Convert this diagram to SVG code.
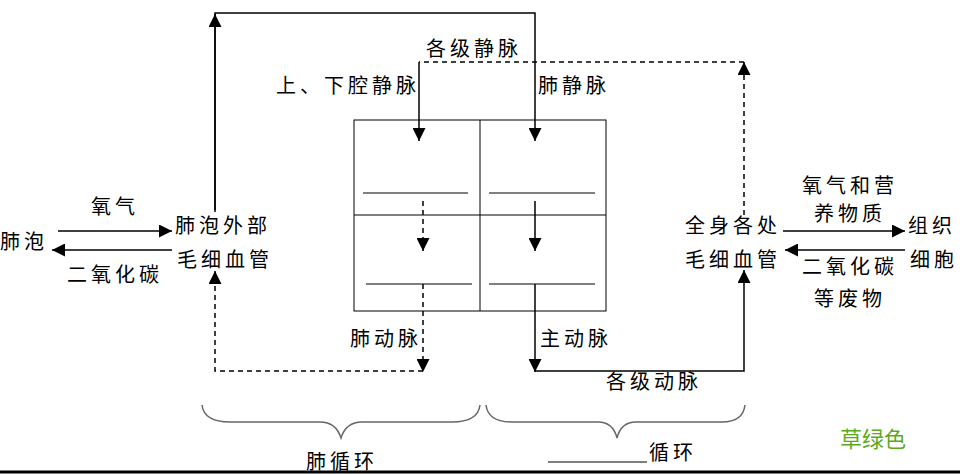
<svg xmlns="http://www.w3.org/2000/svg" width="960" height="474" viewBox="0 0 960 474">
<style>
text{font-family:"Noto Sans CJK SC",sans-serif;font-size:20px;letter-spacing:4px;fill:#000}
.s{stroke:#000;stroke-width:1.5;fill:none}
.d{stroke:#000;stroke-width:1.5;fill:none;stroke-dasharray:5,4}
.t{stroke:#000;stroke-width:1;fill:none}
.b{stroke:#666;stroke-width:1.5;fill:none}
</style>
<defs>
<marker id="a2" viewBox="0 0 10 10" refX="10" refY="5" markerWidth="13" markerHeight="13" markerUnits="userSpaceOnUse" orient="auto"><path d="M0,0L10,5L0,10z" fill="#000"/></marker>
</defs>
<rect width="960" height="474" fill="#fff"/>
<g id="heart">
<rect x="354" y="120" width="252" height="191" class="t"/>
<line x1="480" y1="120" x2="480" y2="311" class="t"/>
<line x1="354" y1="215" x2="606" y2="215" class="t"/>
<line x1="363" y1="193" x2="468" y2="193" class="t"/>
<line x1="489" y1="193" x2="595" y2="193" class="t"/>
<line x1="366" y1="284" x2="472" y2="284" class="t"/>
<line x1="489" y1="284" x2="595" y2="284" class="t"/>
</g>
<g id="connectors">
<polyline points="215,210 215,13 535,13 535,141" class="s" marker-end="url(#a2)"/>
<line x1="215" y1="212" x2="215" y2="14" class="s" marker-end="url(#a2)"/>
<polyline points="744,215 744,62 419,62" class="d"/>
<line x1="744" y1="70" x2="744" y2="62" class="s" marker-end="url(#a2)"/>
<line x1="419" y1="62" x2="419" y2="141" class="s" marker-end="url(#a2)"/>
<line x1="423" y1="201" x2="423" y2="251" class="d" marker-end="url(#a2)"/>
<line x1="423" y1="284" x2="423" y2="372" class="d" marker-end="url(#a2)"/>
<polyline points="423,371 215,371 215,271" class="d" marker-end="url(#a2)"/>
<line x1="535" y1="201" x2="535" y2="251" class="s" marker-end="url(#a2)"/>
<line x1="535" y1="284" x2="535" y2="372" class="s" marker-end="url(#a2)"/>
<polyline points="535,371 744,371 744,270" class="s" marker-end="url(#a2)"/>
<line x1="58" y1="231" x2="172" y2="231" class="s" marker-end="url(#a2)"/>
<line x1="172" y1="250" x2="52" y2="250" class="s" marker-end="url(#a2)"/>
<line x1="783" y1="231" x2="905" y2="231" class="s" marker-end="url(#a2)"/>
<line x1="905" y1="250" x2="785" y2="250" class="s" marker-end="url(#a2)"/>
</g>
<g id="lung">
<text x="0" y="249">肺泡</text>
<text x="115" y="214" text-anchor="middle">氧气</text>
<text x="115" y="282" text-anchor="middle">二氧化碳</text>
<text x="175" y="233">肺泡外部</text>
<text x="177" y="267">毛细血管</text>
</g>
<g id="body">
<text x="685" y="233">全身各处</text>
<text x="685" y="267">毛细血管</text>
<text x="850" y="193" text-anchor="middle">氧气和营</text>
<text x="850" y="221" text-anchor="middle">养物质</text>
<text x="908" y="233">组织</text>
<text x="910" y="267">细胞</text>
<text x="850" y="274" text-anchor="middle">二氧化碳</text>
<text x="850" y="306" text-anchor="middle">等废物</text>
</g>
<g id="labels">
<text x="474" y="56" text-anchor="middle">各级静脉</text>
<text x="420" y="93" text-anchor="end">上、下腔静脉</text>
<text x="538" y="93">肺静脉</text>
<text x="386" y="346" text-anchor="middle">肺动脉</text>
<text x="540" y="346">主动脉</text>
<text x="654" y="389" text-anchor="middle">各级动脉</text>
</g>
<g id="braces">
<path d="M202,405 Q204,422 230,422 L320,422 Q336,422 341,438 Q346,422 362,422 L452,422 Q478,422 480,405" class="b"/>
<path d="M486,405 Q488,422 512,422 L598,422 Q613,422 617,438 Q621,422 636,422 L722,422 Q743,422 745,405" class="b"/>
<text x="342" y="469" text-anchor="middle">肺循环</text>
<line x1="548" y1="462" x2="647" y2="462" stroke="#555" stroke-width="1.5"/>
<text x="649" y="460">循环</text>
<text x="840" y="447" style="fill:#5aaa1e;font-size:22px;letter-spacing:0">草绿色</text>
</g>
<line x1="0" y1="472" x2="960" y2="472" stroke="#000" stroke-width="3"/>
</svg>
